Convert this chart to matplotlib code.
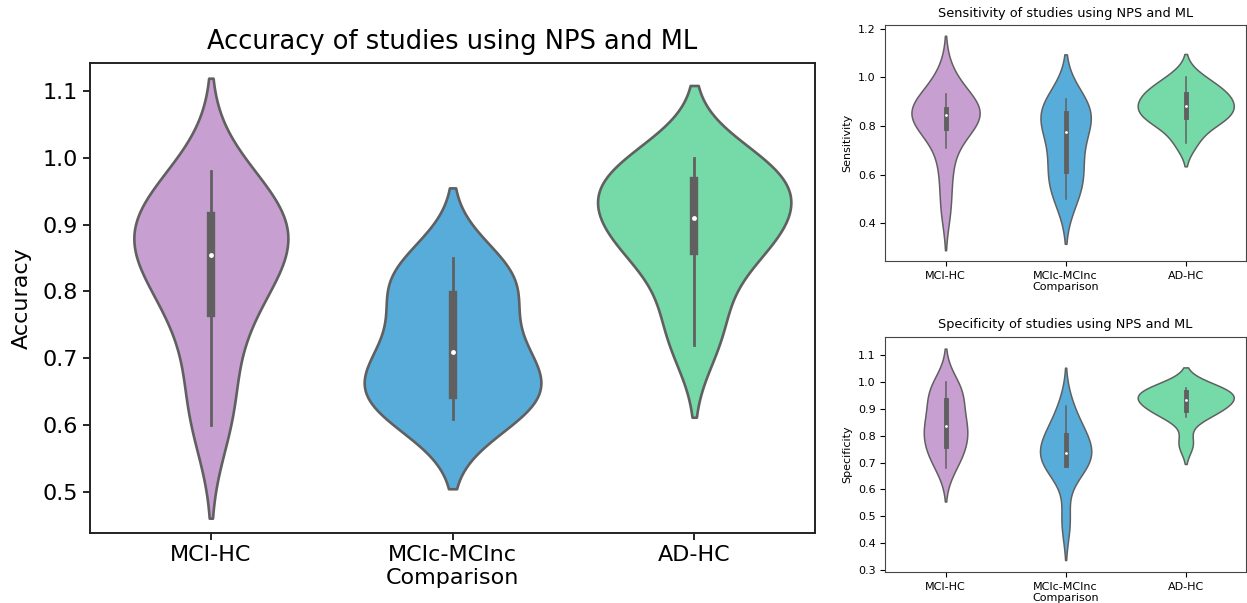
import pandas as pd
import seaborn as sns
import matplotlib
matplotlib.use('Agg')
import matplotlib.pyplot as plt

# comparison groups
categories = ['MCI-HC', 'MCIc-MCInc', 'AD-HC']
colors = ['#c79fd0', '#58acda', '#76d9a8']

# accuracy values per study
acc_mci_hc = [0.60, 0.66, 0.76, 0.77, 0.84, 0.85, 0.86, 0.88, 0.91, 0.92, 0.94, 0.98]
acc_mcic_mcinc = [0.61, 0.63, 0.64, 0.65, 0.68, 0.71, 0.72, 0.78, 0.81, 0.82, 0.85]
acc_ad_hc = [0.72, 0.78, 0.85, 0.87, 0.89, 0.91, 0.93, 0.96, 0.97, 0.98, 1.00]

# sensitivity values per study
sens_mci_hc = [0.46, 0.60, 0.71, 0.79, 0.82, 0.84, 0.845, 0.85, 0.86, 0.87, 0.89, 0.93, 1.00]
sens_mcic_mcinc = [0.50, 0.56, 0.60, 0.66, 0.74, 0.81, 0.83, 0.86, 0.88, 0.91]
sens_ad_hc = [0.73, 0.80, 0.83, 0.84, 0.86, 0.88, 0.90, 0.92, 0.94, 0.96, 1.00]

# specificity values per study
spec_mci_hc = [0.68, 0.72, 0.76, 0.76, 0.81, 0.83, 0.84, 0.87, 0.93, 0.95, 0.97, 1.00]
spec_mcic_mcinc = [0.48, 0.69, 0.69, 0.70, 0.73, 0.74, 0.78, 0.81, 0.83, 0.91]
spec_ad_hc = [0.77, 0.87, 0.89, 0.90, 0.92, 0.935, 0.94, 0.96, 0.97, 0.97, 0.98]


def long_table(groups, name):
    rows = []
    for cat, vals in zip(categories, groups):
        for v in vals:
            rows.append({'Comparison': cat, name: v})
    return pd.DataFrame(rows)


def draw(ax, df, name, lw, box_w, whis_w, dot):
    # common_norm so the violin widths are scaled against each other
    sns.violinplot(data=df, x='Comparison', y=name, hue='Comparison',
                   order=categories, hue_order=categories, palette=colors,
                   saturation=1, linecolor='#606060', linewidth=lw,
                   inner='box', legend=False, common_norm=True, ax=ax,
                   inner_kws=dict(box_width=box_w, whis_width=whis_w,
                                  marker='o', markersize=dot,
                                  markeredgewidth=0))


fig = plt.figure(figsize=(12.47, 6.03), dpi=100)

ax_acc = fig.add_axes([0.0722, 0.1161, 0.5814, 0.7799])
ax_sens = fig.add_axes([0.7101, 0.5672, 0.2889, 0.3913])
ax_spec = fig.add_axes([0.7101, 0.0509, 0.2889, 0.3907])

# main accuracy plot
draw(ax_acc, long_table([acc_mci_hc, acc_mcic_mcinc, acc_ad_hc], 'Accuracy'),
     'Accuracy', 1.9, 6.0, 2.0, 3.5)
ax_acc.set_ylim(0.439, 1.142)
ax_acc.set_title('Accuracy of studies using NPS and ML', fontsize=18.5, pad=10)
ax_acc.set_xlabel('Comparison', fontsize=16, labelpad=2)
ax_acc.set_ylabel('Accuracy', fontsize=16, labelpad=8)
ax_acc.tick_params(labelsize=16, width=1.2, length=5)
for s in ax_acc.spines.values():
    s.set_linewidth(1.4)
    s.set_color('#222222')

# sensitivity plot
draw(ax_sens, long_table([sens_mci_hc, sens_mcic_mcinc, sens_ad_hc], 'Sensitivity'),
     'Sensitivity', 1.1, 3.5, 1.1, 2)
ax_sens.set_title('Sensitivity of studies using NPS and ML', fontsize=9.3)
ax_sens.set_yticks([0.4, 0.6, 0.8, 1.0, 1.2])
ax_sens.set_xlabel('Comparison', fontsize=8, labelpad=1)
ax_sens.set_ylabel('Sensitivity', fontsize=8)
ax_sens.tick_params(labelsize=8)

# specificity plot
draw(ax_spec, long_table([spec_mci_hc, spec_mcic_mcinc, spec_ad_hc], 'Specificity'),
     'Specificity', 1.1, 3.5, 1.1, 2)
ax_spec.set_title('Specificity of studies using NPS and ML', fontsize=9.3)
ax_spec.set_yticks([0.3, 0.4, 0.5, 0.6, 0.7, 0.8, 0.9, 1.0, 1.1])
ax_spec.set_ylim(0.29, 1.17)
ax_spec.set_xlabel('Comparison', fontsize=8, labelpad=1)
ax_spec.set_ylabel('Specificity', fontsize=8)
ax_spec.tick_params(labelsize=8)

for ax in (ax_sens, ax_spec):
    for s in ax.spines.values():
        s.set_color('#444444')

fig.savefig('out.png', dpi=100)
